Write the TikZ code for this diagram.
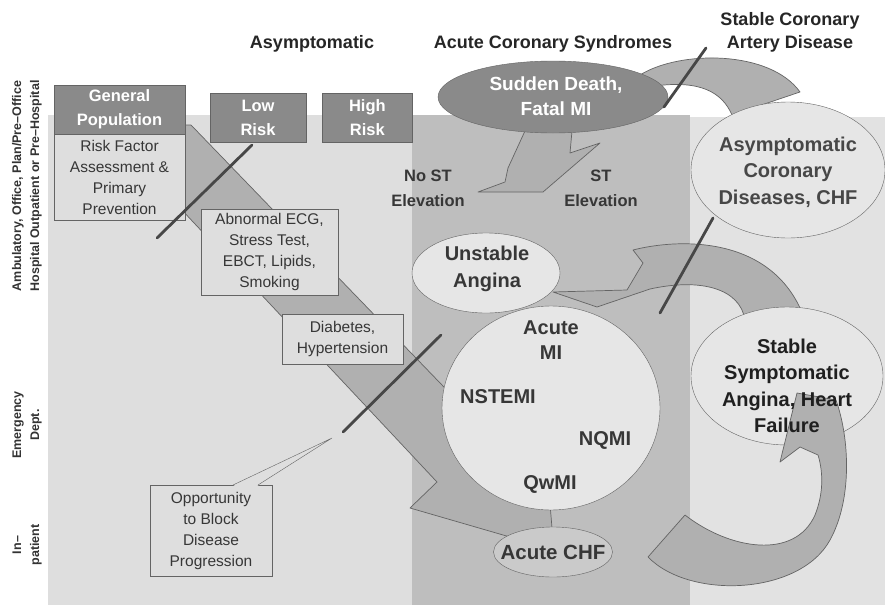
\documentclass[tikz,border=0pt]{standalone}
\usepackage{fontspec}
\setmainfont{Liberation Sans}
\usetikzlibrary{shapes.geometric,positioning}
\definecolor{pagegray}{RGB}{222,222,222}
\definecolor{rightgray}{RGB}{226,226,226}
\definecolor{colgray}{RGB}{190,190,190}
\definecolor{bandgray}{RGB}{176,176,176}
\definecolor{darkfill}{RGB}{138,138,138}
\definecolor{ovalfill}{RGB}{230,230,230}
\definecolor{chffill}{RGB}{202,202,202}
\definecolor{edgegray}{RGB}{100,100,100}
\definecolor{inkgray}{RGB}{55,55,55}
\newcommand{\fsz}[2]{\fontsize{#1}{#2}\selectfont}

\begin{document}
\begin{tikzpicture}[x=1pt, y=-1pt,
  header/.style={font=\fsz{18}{23}\bfseries, text=black!85, align=center},
  darkbox/.style={draw=edgegray, fill=darkfill, text=white,
                  font=\fsz{16.5}{24}\bfseries, align=center, inner sep=0pt},
  textbox/.style={draw=edgegray, fill=pagegray, text=inkgray,
                  font=\fsz{15.5}{21}, align=center, inner sep=0pt},
  oval/.style={ellipse, draw=edgegray, fill=ovalfill, inner sep=0pt},
  ovaltext/.style={font=\fsz{20}{26.5}\bfseries, text=inkgray, align=center},
  stlabel/.style={font=\fsz{16.5}{25}\bfseries, text=inkgray, align=center},
  band/.style={fill=bandgray, draw=edgegray, line width=0.7pt, line join=round},
  blockline/.style={line width=2.8pt, draw=black!72, line cap=round},
  side/.style={rotate=90, font=\fsz{12.5}{18}\bfseries, text=black!80, align=center}
]
\useasboundingbox (0,0) rectangle (885,605);

% Care settings background
\fill[white] (0,0) rectangle (885,605);
\fill[pagegray] (48,115) rectangle (690,605);
\fill[rightgray] (690,117) rectangle (885,605);
\fill[colgray] (412,115) rectangle (690,605);

% Headings
\node[header] (asymhead) at (312,44) {Asymptomatic};
\node[header] (acshead) at (553,44) {Acute Coronary Syndromes};
\node[header] (cadhead) at (790,32) {Stable Coronary\\Artery Disease};

% Settings down the side
\node[side] (amb) at (27,186) {Ambulatory, Office, Plan/Pre–Office\\Hospital Outpatient or Pre–Hospital};
\node[side] (emerg) at (27,425) {Emergency\\Dept.};
\node[side] (inpat) at (27,545) {In–\\patient};

% Progression band
\filldraw[band] (150,125) -- (191,125) -- (470,414) -- (548,480) -- (553,540)
  -- (510,537) -- (410,508) -- (437,482) -- (150,176) -- cycle;

% Split arrow below sudden death
\filldraw[band] (530,120) -- (508,168) -- (505,182) -- (478,192) -- (543,192)
  -- (600,143) -- (570,153) -- (573,120) -- cycle;

% Crescent to asymptomatic CAD
\filldraw[band] (640,95) -- (640,75) .. controls (680,50) and (770,50) .. (800,92)
  -- (732,115) .. controls (722,92) and (700,80) .. (655,86) -- cycle;

% Arc back to unstable angina
\filldraw[band] (553,292) -- (627,290) -- (643,263) -- (633,250)
  .. controls (680,238) and (775,235) .. (805,320) -- (745,320)
  .. controls (740,288) and (700,278) .. (650,289) -- (597,307) -- cycle;

% Risk boxes
\node[darkbox, minimum width=131pt, minimum height=49pt] (gphead) at (119.5,109.5) {General\\Population};
\node[textbox, minimum width=131pt, minimum height=86pt, below=0pt of gphead] (gprisk)
     {Risk Factor\\Assessment \&\\Primary\\Prevention};
\node[darkbox, minimum width=96pt, minimum height=49pt] (lowrisk) at (258,117.5) {Low\\Risk};
\node[darkbox, minimum width=90pt, minimum height=49pt, right=16pt of lowrisk] (highrisk) {High\\Risk};

\node[textbox, minimum width=137pt, minimum height=86pt] (abnormal) at (269.5,252)
     {Abnormal ECG,\\Stress Test,\\EBCT, Lipids,\\Smoking};
\node[textbox, minimum width=121pt, minimum height=50pt] (diabetes) at (342.5,339)
     {Diabetes,\\Hypertension};

% Callout box
\node[textbox, minimum width=122pt, minimum height=91pt] (oppbox) at (211,530.5)
     {Opportunity\\to Block\\Disease\\Progression};
\coordinate (opptip) at (332,438);
\fill[pagegray] (233.5,485.8) -- (opptip) -- (257.5,485.8) -- cycle;
\draw[edgegray] (233,485) -- (opptip) -- (258,485);

% Acute coronary syndromes
\node[oval, fill=darkfill, minimum width=230pt, minimum height=72pt] (sudden) at (553,97) {};
\node[ovaltext, text=white, font=\fsz{19}{25}\bfseries] (suddentxt) at (556,96) {Sudden Death,\\Fatal MI};

\node[stlabel] (nost) at (428,188) {No ST\\Elevation};
\node[stlabel] (st) at (601,188) {ST\\Elevation};

\node[oval, minimum width=148pt, minimum height=80pt] (unstable) at (486,273) {};
\node[ovaltext] (unstabletxt) at (487,269) {Unstable\\Angina};

\node[oval, minimum width=218pt, minimum height=204pt] (acutemi) at (551,408) {};
\node[ovaltext, font=\fsz{20}{25}\bfseries] (mihead) at (551,340) {Acute\\MI};
\node[ovaltext] (nstemi) at (498,397) {NSTEMI};
\node[ovaltext] (nqmi) at (605,440) {NQMI};
\node[ovaltext] (qwmi) at (550,484) {QwMI};

\node[oval, fill=chffill, minimum width=119pt, minimum height=50pt] (acutechf) at (553,552) {};
\node[ovaltext, font=\fsz{20.5}{25}\bfseries] (chftxt) at (acutechf) {Acute CHF};

% Stable coronary artery disease
\node[oval, minimum width=194pt, minimum height=136pt] (asymcad) at (788,170) {};
\node[ovaltext, text=black!72] (asymtxt) at (788,172) {Asymptomatic\\Coronary\\Diseases, CHF};

\node[oval, minimum width=192pt, minimum height=138pt] (stablesym) at (787,376) {};
\filldraw[band] (685,515) .. controls (730,550) and (795,560) .. (815,515)
  .. controls (825,490) and (822,468) .. (818,455) -- (800,447) -- (780,462)
  -- (797,393) -- (836,400) .. controls (850,440) and (852,500) .. (830,540)
  .. controls (800,595) and (690,600) .. (648,557) -- cycle;
\node[ovaltext, text=black!88] (stabletxt) at (787,386) {Stable\\Symptomatic\\Angina, Heart\\Failure};

% Blocking marks
\draw[blockline] (157,238) -- (252,145);
\draw[blockline] (343,432) -- (441,335);
\draw[blockline] (664,107) -- (706,48);
\draw[blockline] (660,313) -- (713,218);

\end{tikzpicture}
\end{document}
